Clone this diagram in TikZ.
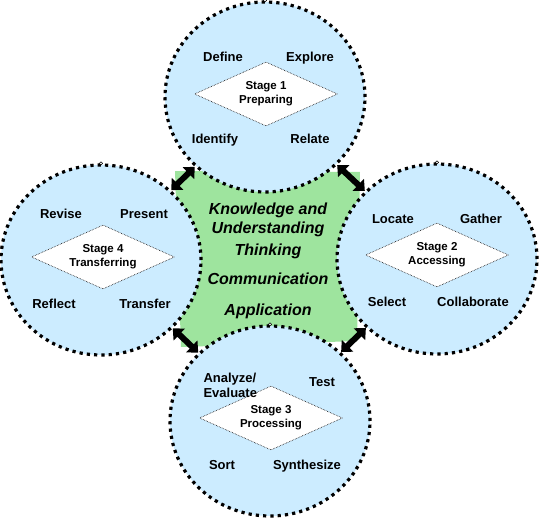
\documentclass[tikz,border=0pt]{standalone}
\usepackage{fontspec}
\setmainfont{Liberation Sans}
\usetikzlibrary{shapes.geometric,arrows.meta}
\definecolor{skyblue}{RGB}{204,236,255}
\definecolor{stipple}{RGB}{158,228,158}
\begin{document}
\begin{tikzpicture}[x=1pt, y=-1pt, line join=round,
		stage/.style={ellipse, draw, fill=skyblue, line width=3.2pt, dash pattern=on 3.2pt off 4.1pt,
			minimum width=200pt, minimum height=190pt, inner sep=0pt},
		step box/.style={diamond, draw, fill=white, line width=.6pt, densely dotted, aspect=2.23,
			minimum width=143pt, minimum height=64pt, inner sep=0pt, align=center,
			font=\fontsize{11.5}{14}\selectfont\bfseries},
		lbl/.style={anchor=base, font=\fontsize{13}{15}\selectfont\bfseries},
		mid/.style={anchor=base, font=\fontsize{16}{19}\selectfont\bfseries\itshape},
		arr/.style={line width=6pt, {Triangle[length=9pt,width=16pt]}-{Triangle[length=9pt,width=16pt]}}]
	\useasboundingbox (0,0) rectangle (541,519);
	% green area in the middle
	\coordinate (tl) at (175,171);
	\coordinate (tr) at (360,172);
	\coordinate (br) at (357,341);
	\coordinate (bl) at (181,347);
	\fill[stipple] (tl) -- (tr) -- (br) -- (bl) -- cycle;
	% the four stages
	\node[stage] (top) at (265,97) {};
	\node[stage] (right) at (437,259) {};
	\node[stage] (bottom) at (270,421) {};
	\node[stage] (left) at (101,260) {};
	\foreach \s in {top,right,bottom,left}{\draw[line width=.5pt, fill=white] (\s.north) circle (1.6pt);}
	\node[step box] (s1) at (266,94) {Stage 1\\Preparing};
	\node[step box] (s2) at (437,255) {Stage 2\\Accessing};
	\node[step box] (s3) at (271,418) {Stage 3\\Processing};
	\node[step box] (s4) at (103,257) {Stage 4\\Transferring};
	% stage 1
	\node[lbl] (define) at (223,62) {Define};
	\node[lbl] (explore) at (310,62) {Explore};
	\node[lbl] (identify) at (215,143) {Identify};
	\node[lbl] (relate) at (310,143) {Relate};
	% stage 2
	\node[lbl] (locate) at (393,223) {Locate};
	\node[lbl] (gather) at (481,223) {Gather};
	\node[lbl] (select) at (387,306) {Select};
	\node[lbl] (collab) at (473,306) {Collaborate};
	% stage 3
	\node[lbl, anchor=west, align=left] (analyze) at (200,385) {Analyze/\\Evaluate};
	\node[lbl] (test) at (322,386) {Test};
	\node[lbl] (sort) at (222,469) {Sort};
	\node[lbl] (synth) at (307,469) {Synthesize};
	% stage 4
	\node[lbl] (revise) at (61,218) {Revise};
	\node[lbl] (present) at (144,218) {Present};
	\node[lbl] (reflect) at (54,308) {Reflect};
	\node[lbl] (transfer) at (145,308) {Transfer};
	% arrows between stages
	\draw[arr] (top) -- (left);
	\draw[arr] (top) -- (right);
	\draw[arr] (bottom) -- (right);
	\draw[arr] (bottom) -- (left);
	% centre
	\node[mid] (know) at (268,214) {Knowledge and};
	\node[mid] (under) at (268,233) {Understanding};
	\node[mid] (think) at (268,255) {Thinking};
	\node[mid] (comm) at (268,284) {Communication};
	\node[mid] (appl) at (268,315) {Application};
\end{tikzpicture}
\end{document}
